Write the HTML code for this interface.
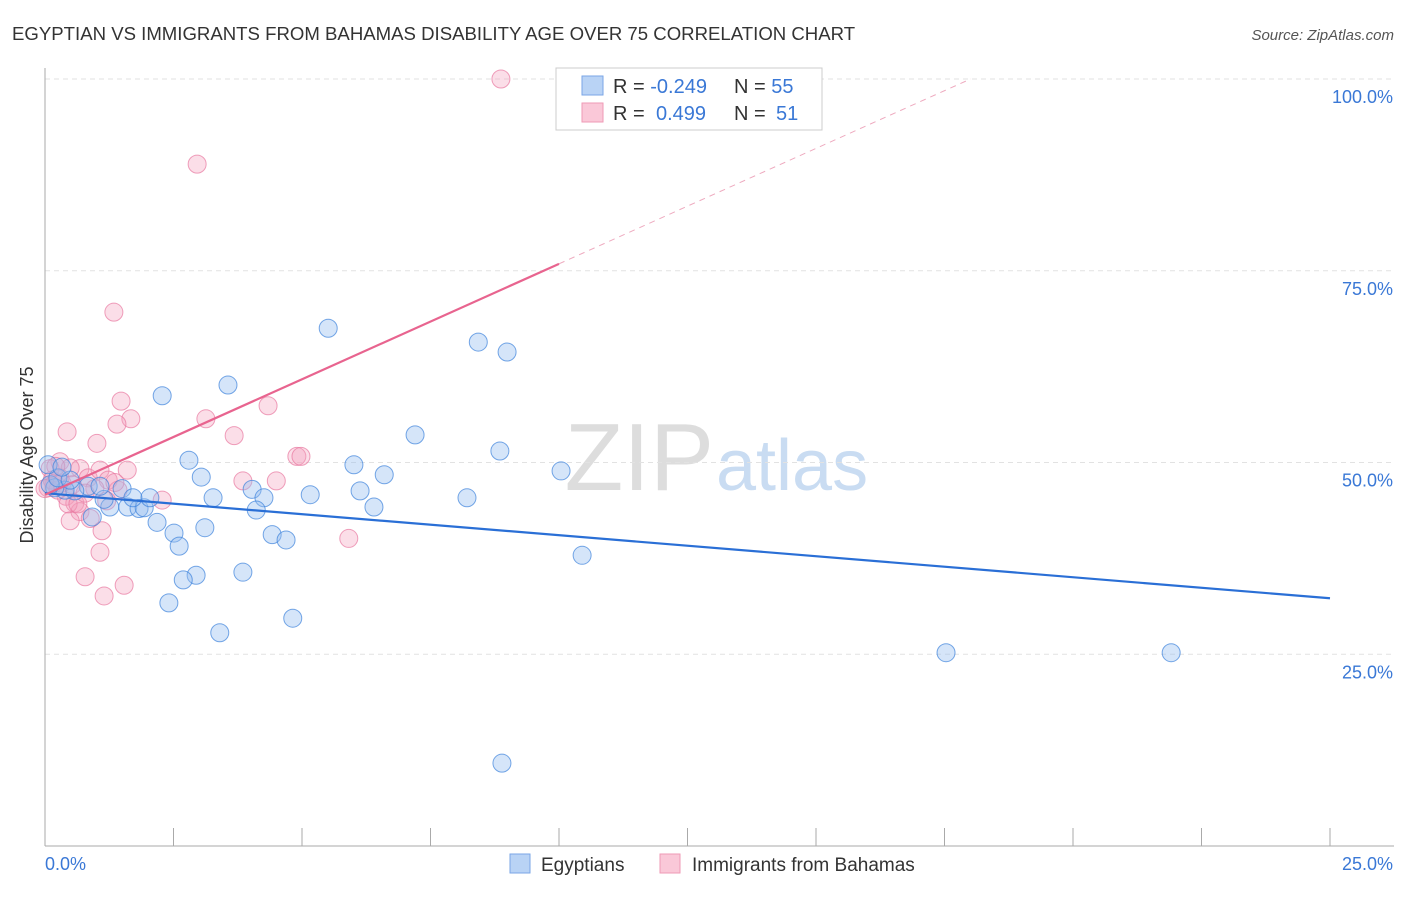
<!DOCTYPE html>
<html><head><meta charset="utf-8"><style>
body{margin:0;background:#fff;font-family:"Liberation Sans",sans-serif;}
svg text{font-family:"Liberation Sans",sans-serif;}
</style></head><body>
<svg width="1406" height="892" xmlns="http://www.w3.org/2000/svg">
<text x="12" y="40" font-size="18.6" fill="#333">EGYPTIAN VS IMMIGRANTS FROM BAHAMAS DISABILITY AGE OVER 75 CORRELATION CHART</text>
<text x="1394" y="40" font-size="15" fill="#555" text-anchor="end" font-style="italic">Source: ZipAtlas.com</text>
<text x="714" y="490" font-size="96" fill="#ddd" text-anchor="end" font-family="Liberation Serif">ZIP</text>
<text x="716" y="490" font-size="72" fill="#c9dcf2">atlas</text>
<g id="grid"></g><g id="axes"></g>
<g id="pts"></g><g id="lines"></g>
<text x="33" y="455" font-size="18" fill="#333" text-anchor="middle" transform="rotate(-90 33 455)">Disability Age Over 75</text>
<text x="45" y="870" font-size="18" fill="#3a78d6">0.0%</text>
<text x="1393" y="870" font-size="18" fill="#3a78d6" text-anchor="end">25.0%</text>
<g>
<rect x="556" y="68" width="266" height="62" fill="#fff" stroke="#ccc"/>
<rect x="582" y="76" width="21" height="19" fill="#b9d3f5" stroke="#7aa6e6"/>
<rect x="582" y="103" width="21" height="19" fill="#fac8d8" stroke="#ef9ab6"/>
<text x="613" y="93" font-size="20" fill="#333">R = <tspan fill="#3a78d6">-0.249</tspan></text>
<text x="734" y="93" font-size="20" fill="#333">N = <tspan fill="#3a78d6">55</tspan></text>
<text x="613" y="120" font-size="20" fill="#333">R = <tspan fill="#3a78d6" x="656">0.499</tspan></text>
<text x="734" y="120" font-size="20" fill="#333">N = <tspan fill="#3a78d6" x="776">51</tspan></text>
</g>
<g><rect x="510" y="854" width="20" height="19" fill="#b9d3f5" stroke="#7aa6e6"/><text x="541" y="871" font-size="19" fill="#333">Egyptians</text></g>
<g><rect x="660" y="854" width="20" height="19" fill="#fac8d8" stroke="#ef9ab6"/><text x="692" y="871" font-size="19" fill="#333">Immigrants from Bahamas</text></g>
</svg>
<script>
const yTicks=[25,50,75,100];
const xTicks=[0,2.5,5,7.5,10,12.5,15,17.5,20,22.5,25];
const blueX=[2.28,3.56,5.51,8.43,8.99,2.8,3.04,7.2,6.01,6.6,8.85,10.04,3.27,4.03,4.26,4.11,5.16,6.13,6.4,8.21,2.18,2.51,3.11,2.61,4.42,4.69,3.85,2.94,2.69,2.41,3.4,4.82,10.45,17.53,21.91,8.89,1.5,1.26,1.61,1.83,1.93,2.04,1.71,0.92,1.15,0.84,0.58,0.39,0.19,0.1,0.25,0.49,0.06,0.33,1.07];
const blueY=[58.7,60.1,67.5,65.7,64.4,50.3,48.1,53.6,49.7,48.4,51.5,48.9,45.4,46.5,45.4,43.8,45.8,46.3,44.2,45.4,42.2,40.8,41.5,39.1,40.6,39.9,35.7,35.3,34.7,31.7,27.8,29.7,37.9,25.2,25.2,10.8,46.6,44.2,44.2,44.0,44.1,45.4,45.4,42.9,45.2,46.9,46.3,46.4,46.7,47.1,48.0,47.7,49.7,49.4,46.9];
const pinkX=[8.87,2.96,1.34,4.34,1.48,1.67,1.4,3.13,3.68,0.43,1.01,1.6,0.68,0.84,0.29,0.49,3.85,4.5,4.9,4.98,2.28,1.07,1.23,1.42,0.29,0.19,0.06,0.41,0.58,0.68,0.88,0.49,1.07,1.11,0.78,1.54,1.15,5.91,1.36,0.1,0.25,0.45,0.64,0.14,0.0,0.33,0.97,1.2,0.53,0.78,0.21];
const pinkY=[100,88.9,69.6,57.4,58.0,55.7,55.0,55.7,53.5,54.0,52.5,49.0,49.2,48.0,50.1,49.3,47.6,47.6,50.8,50.8,45.1,49.0,47.7,46.4,48.0,47.3,46.7,45.6,44.7,43.6,42.7,42.4,38.3,41.1,35.1,34.0,32.6,40.1,47.4,49.2,46.4,44.6,44.6,47.7,46.6,47.3,46.6,45.0,47.1,46.0,49.5];
const blueTrend=[46.0,32.3];
const pinkTrend=[45.8,75.9];
const NS="http://www.w3.org/2000/svg";
const X=v=>45+v/25*1285, Y=v=>846-v/100*767;
function mk(t,a,p){const e=document.createElementNS(NS,t);for(const k in a)e.setAttribute(k,a[k]);p.appendChild(e);return e;}
const grid=document.getElementById('grid'),axes=document.getElementById('axes'),pts=document.getElementById('pts'),lines=document.getElementById('lines');
yTicks.forEach(t=>{const l=mk('line',{x1:45,x2:1394,y1:Y(t),y2:Y(t),stroke:'#e2e2e2','stroke-dasharray':'5,4'},grid);


const tx=mk('text',{x:1393,y:Y(t)+24,'font-size':18,fill:'#3a78d6','text-anchor':'end'},grid);tx.textContent=t.toFixed(1)+'%';

});
const ax=mk('line',{x1:45,x2:45,y1:68,y2:846,stroke:'#aaa'},axes);


const bx=mk('line',{x1:45,x2:1394,y1:846,y2:846,stroke:'#aaa'},axes);


xTicks.forEach(t=>{const l=mk('line',{x1:X(t),x2:X(t),y1:828,y2:846,stroke:'#aaa'},axes);

});
pinkX.forEach((v,i)=>{const c=mk('circle',{cx:X(v),cy:Y(pinkY[i]),r:9,fill:'rgba(244,160,190,0.35)',stroke:'rgba(232,120,160,0.7)','stroke-width':1},pts);

});
blueX.forEach((v,i)=>{const c=mk('circle',{cx:X(v),cy:Y(blueY[i]),r:9,fill:'rgba(150,190,240,0.4)',stroke:'rgba(60,130,220,0.7)','stroke-width':1},pts);

});
const bl=mk('line',{x1:X(0),y1:Y(blueTrend[0]),x2:X(25),y2:Y(blueTrend[1]),stroke:'#2a6fd6','stroke-width':2.2},lines);


const slope=(pinkTrend[1]-pinkTrend[0])/10;const xEnd=(100-pinkTrend[0])/slope;
const pl=mk('line',{x1:X(0),y1:Y(pinkTrend[0]),x2:X(10),y2:Y(pinkTrend[1]),stroke:'#e8648f','stroke-width':2.2},lines);


const pd=mk('line',{x1:X(10),y1:Y(pinkTrend[1]),x2:X(xEnd),y2:Y(100),stroke:'#eeaabf','stroke-width':1,'stroke-dasharray':'6,5'},lines);


</script>
</body></html>
